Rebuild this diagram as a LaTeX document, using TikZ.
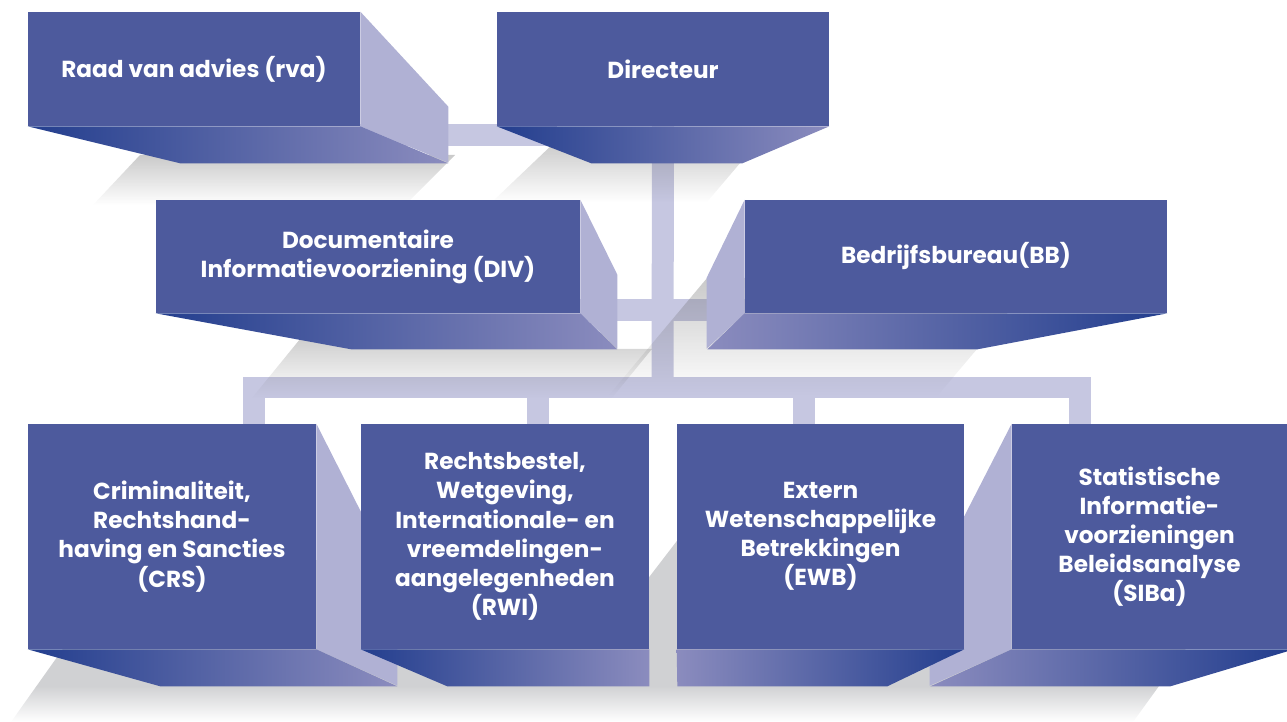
\documentclass[tikz,border=0pt]{standalone}
\usepackage{fontspec}
\setmainfont{Poppins}
\usetikzlibrary{calc,fadings}
\definecolor{boxblue}{HTML}{4D5A9D}
\definecolor{sidelav}{HTML}{B0B1D4}
\definecolor{barlav}{HTML}{C6C7E1}
\definecolor{bfdark}{HTML}{233E8E}
\definecolor{bflight}{HTML}{8B8CBE}
\definecolor{shadowflat}{HTML}{D0D1D3}
\pgfdeclarelayer{back}
\pgfsetlayers{back,main}
\tikzfading[name=fadedown, top color=transparent!0, middle color=transparent!0, bottom color=transparent!100]
\tikzset{
  front/.style={fill=boxblue, text=white, inner sep=0pt, align=center,
    font=\bfseries\fontsize{13.2}{16.6}\selectfont},
  sideface/.style={fill=sidelav},
  botface/.style={left color=bfdark, right color=bflight},
  botfacer/.style={left color=bflight, right color=bfdark},
  bar/.style={draw=barlav, line width=0.44cm, line join=miter},
  dropshadow/.style={fill=black!60, fill opacity=0.35, path fading=fadedown}
}
\begin{document}
\begin{tikzpicture}[x=0.02cm, y=-0.02cm]
  \useasboundingbox (0,0) rectangle (1287,722);
  % top row
  \node[front, minimum width=6.64cm, minimum height=2.28cm] (raad) at (194,69) {Raad van advies (rva)};
  \fill[sideface] (raad.north east) -- ++(88,95) -- ++(0,56) -- (raad.south east) -- cycle;
  \shade[botface] (raad.south west) -- (raad.south east) -- ++(88,37) -- ++(-268,0) -- cycle;
  \node[front, minimum width=6.64cm, minimum height=2.28cm] (dir) at (663,69) {Directeur};
  \shade[botface] (dir.south west) -- (dir.south east) -- ++(-87,37) -- ++(-151,0) -- cycle;
  % second row
  \node[front, minimum width=8.48cm, minimum height=2.26cm] (div) at (368,256.5) {Documentaire\\Informatievoorziening (DIV)};
  \fill[sideface] (div.north east) -- ++(37,75) -- ++(0,74) -- (div.south east) -- cycle;
  \shade[botface] (div.south west) -- (div.south east) -- ++(37,36) -- ++(-266,0) -- cycle;
  \node[front, minimum width=8.44cm, minimum height=2.26cm] (bb) at (956,256.5) {Bedrijfsbureau(BB)};
  \fill[sideface] (bb.north west) -- ++(-38,78) -- ++(0,71) -- (bb.south west) -- cycle;
  \shade[botfacer] (bb.south west) -- (bb.south east) -- ++(-190,36) -- ++(-270,0) -- cycle;
  % bottom row
  \node[front, minimum width=5.76cm, minimum height=4.5cm] (crs) at (172,536.5) {Criminaliteit,\\Rechtshand-\\having en Sancties\\(CRS)};
  \fill[sideface] (crs.north east) -- ++(81,160) -- ++(0,102) -- (crs.south east) -- cycle;
  \shade[botface] (crs.south west) -- (crs.south east) -- ++(81,37) -- ++(-237,0) -- cycle;
  \node[front, minimum width=5.76cm, minimum height=4.5cm] (rwi) at (505,536.5) {Rechtsbestel,\\Wetgeving,\\Internationale- en\\vreemdelingen-\\aangelegenheden\\(RWI)};
  \shade[botface] (rwi.south west) -- (rwi.south east) -- ++(0,37) -- ++(-202,0) -- cycle;
  \node[front, minimum width=5.5cm, minimum height=4.5cm] (siba) at (1149.5,536.5) {Statistische\\Informatie-\\voorzieningen\\Beleidsanalyse\\(SIBa)};
  \fill[sideface] (siba.north west) -- ++(-82,160) -- ++(0,102) -- (siba.south west) -- cycle;
  \shade[botfacer] (siba.south west) -- (siba.south east) -- ++(0,2) -- ++(-117,35) -- ++(-240,0) -- cycle;
  \node[front, minimum width=5.74cm, minimum height=4.5cm] (ewb) at (820.5,536.5) {Extern\\Wetenschappelijke\\Betrekkingen\\(EWB)};
  \shade[botfacer] (ewb.south west) -- (ewb.south east) -- ++(-77,37) -- ++(-210,0) -- cycle;
  % connectors and shadows behind the boxes
  \coordinate (hub) at (662.5,387.5);
  \coordinate (jcrs) at (254,387.5);
  \coordinate (jrwi) at (538,387.5);
  \coordinate (jewb) at (804,387.5);
  \coordinate (jsiba) at (1080,387.5);
  \begin{pgfonlayer}{back}
    \begin{scope}
      \clip (126,560) -- (640,560) -- (640,589) -- (716,490) -- (950,490) -- (950,560)
        -- (1250,560) -- (1133,722) -- (11,722) -- cycle;
      \fill[shadowflat] (0,480) rectangle (1287,686);
      \shade[top color=shadowflat, bottom color=white] (0,686) rectangle (1287,722);
    \end{scope}
    \draw[bar] ($(raad.south east)+(0,9)$) -- ($(dir.south west)+(60,9)$);
    \draw[bar] (dir.south) -- (hub);
    \draw[bar] ($(div.south east)+(0,-3.5)$) -- ($(bb.south west)+(0,-3.5)$);
    \draw[bar] (jcrs |- crs.north) -- (jcrs) -- (jsiba) -- (jsiba |- siba.north);
    \draw[bar] (jrwi) -- (jrwi |- rwi.north);
    \draw[bar] (jewb) -- (jewb |- ewb.north);
    \fill[dropshadow] (140,155) -- (455,155) -- (405,205) -- (93,205) -- cycle;
    \fill[dropshadow] (555,142) -- (758,142) -- (707,202) -- (492,202) -- cycle;
    \fill[dropshadow] (305,333) -- (617,333) -- (617,349) -- (652,349) -- (612,398) -- (252,398) -- cycle;
    \fill[dropshadow] (707,278) -- (1037,278) -- (938,395) -- (609,395) -- cycle;
  \end{pgfonlayer}
\end{tikzpicture}
\end{document}
